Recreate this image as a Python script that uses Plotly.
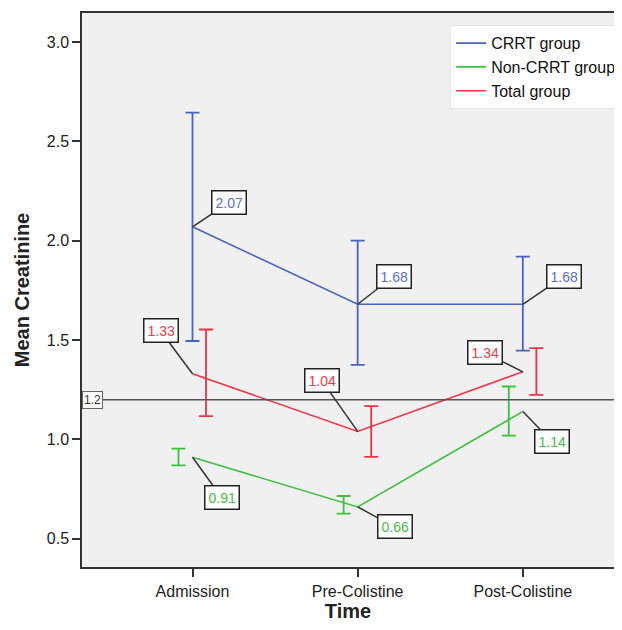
import plotly.graph_objects as go

categories = ["Admission", "Pre-Colistine", "Post-Colistine"]
series_names = ["CRRT group", "Non-CRRT group", "Total group"]
crrt_mean = [2.07, 1.68, 1.68]
crrt_upper = [2.645, 2.00, 1.92]
crrt_lower = [1.495, 1.375, 1.447]
non_mean = [0.91, 0.66, 1.14]
non_upper = [0.953, 0.715, 1.266]
non_lower = [0.869, 0.626, 1.019]
total_mean = [1.33, 1.04, 1.34]
total_upper = [1.553, 1.167, 1.459]
total_lower = [1.117, 0.912, 1.224]
reference_value = 1.2

colors = {"CRRT group": "#4A63C0", "Non-CRRT group": "#3EC23E", "Total group": "#EE3344"}
label_colors = {"CRRT group": "#5A70CC", "Non-CRRT group": "#44C044", "Total group": "#F03A4A"}

data = {
    "CRRT group": (crrt_mean, crrt_upper, crrt_lower, 0.0),
    "Non-CRRT group": (non_mean, non_upper, non_lower, -0.085),
    "Total group": (total_mean, total_upper, total_lower, 0.082),
}

# label offsets in pixels (ax, ay) for each point
label_offsets = {
    "CRRT group": [(36, -24), (36, -28), (41, -28)],
    "Non-CRRT group": [(29, 40), (37, 20), (29, 30)],
    "Total group": [(-32, -43), (-36, -51), (-38, -19)],
}

FONT = "Liberation Sans, Arial, sans-serif"
xs = list(range(len(categories)))
fig = go.Figure()

for name in series_names:
    mean, up, lo, off = data[name]
    fig.add_trace(go.Scatter(
        x=xs, y=mean, mode="lines", name=name,
        line=dict(color=colors[name], width=1.6),
    ))

for name in series_names:
    mean, up, lo, off = data[name]
    fig.add_trace(go.Scatter(
        x=[x + off for x in xs], y=mean, mode="markers",
        marker=dict(size=1, color="rgba(0,0,0,0)"),
        showlegend=False, hoverinfo="skip",
        error_y=dict(type="data", symmetric=False,
                     array=[u - m for u, m in zip(up, mean)],
                     arrayminus=[m - l for m, l in zip(mean, lo)],
                     color=colors[name], thickness=1.8, width=7),
    ))

annotations = []
for name in series_names:
    mean = data[name][0]
    for i, m in enumerate(mean):
        ax, ay = label_offsets[name][i]
        annotations.append(dict(
            x=xs[i], y=m, xref="x", yref="y", text=f"{m:.2f}",
            showarrow=True, arrowhead=0, arrowwidth=1.5, arrowcolor="#333333",
            ax=ax, ay=ay, standoff=0,
            font=dict(size=14, color=label_colors[name], family=FONT),
            bgcolor="white", bordercolor="#222222", borderwidth=1.5, borderpad=3,
        ))

annotations.append(dict(
    x=0, y=reference_value, xref="paper", yref="y", xanchor="left", text=f"{reference_value}",
    showarrow=False, font=dict(size=12, color="#333333", family=FONT),
    bgcolor="white", bordercolor="#666666", borderwidth=1, borderpad=1,
))

fig.add_shape(type="line", xref="paper", yref="y", x0=0, x1=1,
              y0=reference_value, y1=reference_value,
              line=dict(color="#555555", width=1.5))

fig.update_layout(
    width=606, height=614,
    margin=dict(l=74, r=0, t=5, b=55, autoexpand=False),
    paper_bgcolor="white", plot_bgcolor="#F0F0F0",
    font=dict(family=FONT, size=14, color="#222222"),
    showlegend=True,
    legend=dict(x=0.692, y=0.978, xanchor="left", yanchor="top",
                bgcolor="white", bordercolor="#E4E4E4", borderwidth=1,
                font=dict(size=16, color="#111111"), tracegroupgap=0,
                itemwidth=30),
    annotations=annotations,
)

fig.update_xaxes(
    range=[-0.669, 2.552], tickvals=xs, ticktext=categories,
    showgrid=False, zeroline=False,
    showline=True, linecolor="#333333", linewidth=1.5, mirror=True,
    ticks="outside", ticklen=8, tickcolor="#333333", tickwidth=1.5,
    tickfont=dict(size=16, color="#222222"), ticklabelstandoff=1,
    title=dict(text="<b>Time</b>", font=dict(size=20, color="#222222"), standoff=7),
)
fig.update_yaxes(
    range=[0.3576, 3.146], tickvals=[0.5, 1.0, 1.5, 2.0, 2.5, 3.0],
    ticktext=["0.5", "1.0", "1.5", "2.0", "2.5", "3.0"],
    showgrid=False, zeroline=False,
    showline=True, linecolor="#333333", linewidth=1.5, mirror=False,
    ticks="outside", ticklen=8, tickcolor="#333333", tickwidth=1.5,
    tickfont=dict(size=16, color="#222222"),
    title=dict(text="<b>Mean Creatinine</b>", font=dict(size=20, color="#222222"), standoff=12),
)

fig.write_html("out.html")
